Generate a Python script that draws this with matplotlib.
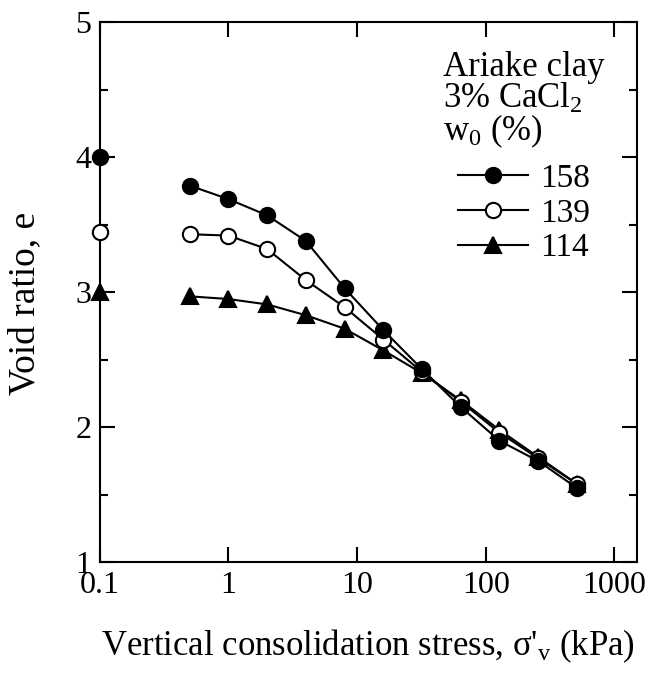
import matplotlib.pyplot as plt
import numpy as np

plt.rcParams['font.family'] = ['Liberation Serif', 'DejaVu Serif']
plt.rcParams['mathtext.fontset'] = 'custom'
plt.rcParams['mathtext.rm'] = 'Liberation Serif'
plt.rcParams['mathtext.it'] = 'Liberation Serif'

# initial state (plotted at 0.1 kPa) and consolidation steps
stress0 = 0.1
stress = [0.5, 1, 2, 4, 8, 16, 32, 64, 128, 256, 512]

labels = ['158', '139', '114']
e0 = [4.00, 3.45, 3.00]
e_158 = [3.79, 3.69, 3.57, 3.38, 3.03, 2.72, 2.43, 2.15, 1.90, 1.75, 1.55]
e_139 = [3.43, 3.42, 3.32, 3.09, 2.89, 2.65, 2.41, 2.19, 1.96, 1.77, 1.58]
e_114 = [2.97, 2.95, 2.91, 2.83, 2.73, 2.57, 2.40, 2.20, 1.98, 1.78, 1.58]

title_lines = ['Ariake clay', '3% CaCl$_2$', 'w$_0$ (%)']

fig = plt.figure(figsize=(6.52, 6.75), dpi=100)
ax = fig.add_axes([0.153, 0.167, 0.824, 0.8])

styles = [dict(marker='o', mfc='black', ms=11),
          dict(marker='o', mfc='white', ms=11),
          dict(marker='^', mfc='black', ms=11)]
series = [e_158, e_139, e_114]

for i in range(3):
	st = styles[i]
	ax.plot(stress, series[i], color='black', lw=1.5, marker=st['marker'],
	        mfc=st['mfc'], mec='black', mew=1.5, ms=st['ms'], label=labels[i], zorder=3 - i * 0.1)
	ax.plot([stress0], [e0[i]], ls='none', marker=st['marker'], mfc=st['mfc'],
	        mec='black', mew=1.5, ms=st['ms'], clip_on=False, zorder=4)

ax.set_xscale('log')
ax.set_xlim(0.1, 1500)
ax.set_ylim(1, 5)
ax.set_xticks([0.1, 1, 10, 100, 1000])
ax.set_xticklabels(['0.1', '1', '10', '100', '1000'])
ax.xaxis.set_minor_locator(plt.NullLocator())
ax.set_yticks([1, 2, 3, 4, 5])
ax.set_yticks(np.arange(1.5, 5, 1.0), minor=True)
ax.tick_params(which='major', direction='in', length=11, width=1.5, labelsize=23,
               top=True, right=True, pad=6)
ax.tick_params(which='minor', direction='in', length=6, width=1.5, top=True, right=True)
for s in ax.spines.values():
	s.set_linewidth(1.5)

ax.set_xlabel("Vertical consolidation stress, σ'$_\\mathrm{v}$ (kPa)", fontsize=25, labelpad=20)
ax.set_ylabel("Void ratio, e", fontsize=27)
ax.yaxis.set_label_coords(-0.108, 0.48)

# legend heading (baselines in pixels from top)
ty = [76, 108, 140]
for k in range(3):
	ax.text(0.639, (562 - ty[k]) / 540, title_lines[k], transform=ax.transAxes,
	        fontsize=25, ha='left', va='baseline')

leg = ax.legend(loc='upper left', bbox_to_anchor=(0.667, 0.739), frameon=False,
                fontsize=24, handlelength=2.1, markerscale=1.0, labelspacing=0.13,
                borderpad=0, borderaxespad=0, handletextpad=0.35)

fig.savefig('out.png', dpi=100)
